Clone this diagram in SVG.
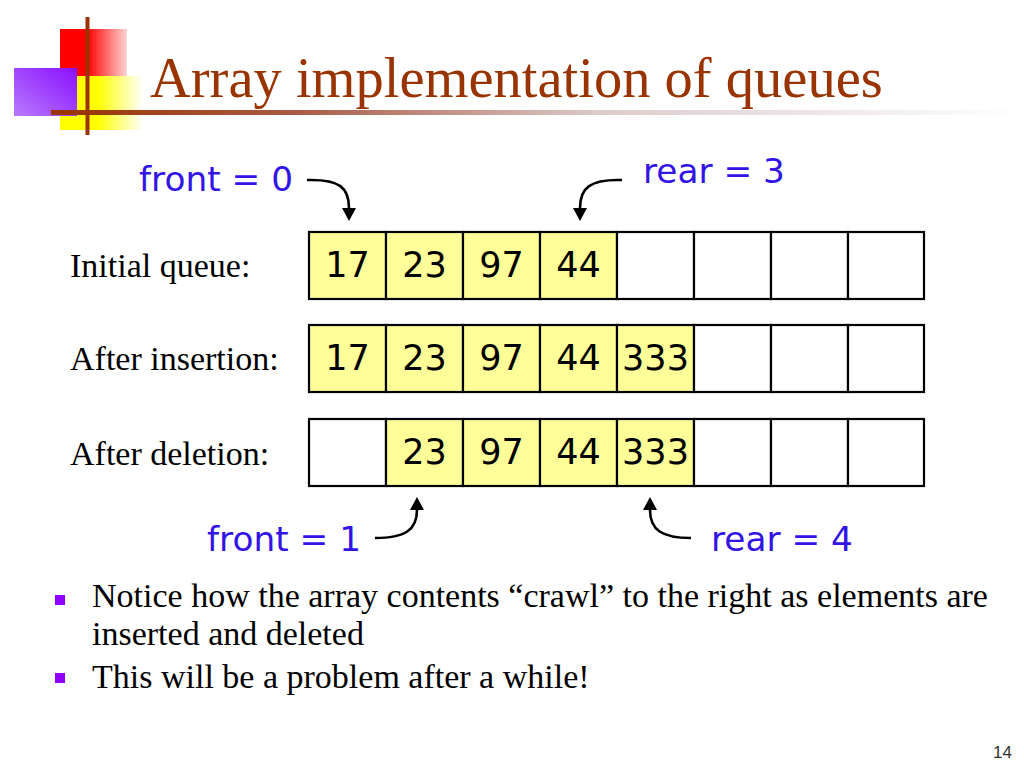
<svg xmlns="http://www.w3.org/2000/svg" width="1024" height="768" viewBox="0 0 1024 768">
<style>
.title{font-family:"Liberation Serif","Times New Roman",serif;font-size:56.5px;fill:#993300}
.lbl{font-family:"Liberation Serif","Times New Roman",serif;font-size:34px;fill:#000}
.body{font-family:"Liberation Serif","Times New Roman",serif;font-size:34px;fill:#000}
.ptr{font-family:"DejaVu Sans",Verdana,sans-serif;font-size:34.3px;fill:#3214e6}
.num{font-family:"DejaVu Sans",Verdana,sans-serif;font-size:35px;fill:#000;text-anchor:middle}
.full{fill:#ffff99;stroke:#000;stroke-width:2.2}
.empty{fill:#fff;stroke:#000;stroke-width:2.2}
.arrow{fill:none;stroke:#000;stroke-width:2.6;marker-end:url(#ah)}
.bullet{fill:#9000ff}
.pg{font-family:"Liberation Sans",Arial,sans-serif;font-size:17px;fill:#333;text-anchor:end}
</style>
<defs>
<linearGradient id="gRed" x1="0" y1="0" x2="1" y2="0">
<stop offset="0" stop-color="#ff0000"/><stop offset="0.4" stop-color="#ff0000"/><stop offset="1" stop-color="#ffd4d4"/>
</linearGradient>
<linearGradient id="gYel" x1="0" y1="0" x2="1" y2="0">
<stop offset="0" stop-color="#ffff00"/><stop offset="0.45" stop-color="#ffff00"/><stop offset="1" stop-color="#ffffff"/>
</linearGradient>
<linearGradient id="gPur" x1="1" y1="0" x2="0" y2="1">
<stop offset="0" stop-color="#8a10ff"/><stop offset="1" stop-color="#b87aff"/>
</linearGradient>
<linearGradient id="gLine" x1="0" y1="0" x2="1" y2="0">
<stop offset="0" stop-color="#993300"/><stop offset="0.25" stop-color="#a85a44"/><stop offset="0.57" stop-color="#ddcccc"/><stop offset="1" stop-color="#ffffff"/>
</linearGradient>
<marker id="ah" viewBox="0 0 13 14" refX="0" refY="7" markerWidth="13" markerHeight="14" markerUnits="userSpaceOnUse" orient="auto">
<path d="M0,0 L13,7 L0,14 z" fill="#000"/>
</marker>
</defs>
<rect width="1024" height="768" fill="#fff"/>

<g id="logo">
<rect x="60" y="29" width="67" height="47" fill="url(#gRed)"/>
<rect x="60" y="76" width="83" height="54" fill="url(#gYel)"/>
<rect x="14" y="68" width="63" height="48" fill="url(#gPur)"/>
<rect x="51" y="110" width="970" height="5" fill="url(#gLine)"/>
<rect x="85.5" y="17" width="4" height="118" fill="#993300"/>
</g>

<g id="title"><text class="title" x="150" y="97">Array implementation of queues</text></g>

<g id="row-labels">
<text class="lbl" x="70" y="277">Initial queue:</text>
<text class="lbl" x="70" y="370">After insertion:</text>
<text class="lbl" x="70" y="465">After deletion:</text>
</g>

<g id="queue-initial">
<rect class="full" x="309" y="232" width="77" height="67"/>
<rect class="full" x="386" y="232" width="77" height="67"/>
<rect class="full" x="463" y="232" width="77" height="67"/>
<rect class="full" x="540" y="232" width="77" height="67"/>
<rect class="empty" x="617" y="232" width="77" height="67"/>
<rect class="empty" x="694" y="232" width="77" height="67"/>
<rect class="empty" x="771" y="232" width="77" height="67"/>
<rect class="empty" x="848" y="232" width="76" height="67"/>
<text class="num" x="347.5" y="277">17</text>
<text class="num" x="424.5" y="277">23</text>
<text class="num" x="501.5" y="277">97</text>
<text class="num" x="578.5" y="277">44</text>
</g>

<g id="queue-after-insertion">
<rect class="full" x="309" y="325" width="77" height="67"/>
<rect class="full" x="386" y="325" width="77" height="67"/>
<rect class="full" x="463" y="325" width="77" height="67"/>
<rect class="full" x="540" y="325" width="77" height="67"/>
<rect class="full" x="617" y="325" width="77" height="67"/>
<rect class="empty" x="694" y="325" width="77" height="67"/>
<rect class="empty" x="771" y="325" width="77" height="67"/>
<rect class="empty" x="848" y="325" width="76" height="67"/>
<text class="num" x="347.5" y="370">17</text>
<text class="num" x="424.5" y="370">23</text>
<text class="num" x="501.5" y="370">97</text>
<text class="num" x="578.5" y="370">44</text>
<text class="num" x="655.5" y="370">333</text>
</g>

<g id="queue-after-deletion">
<rect class="empty" x="309" y="419" width="77" height="67"/>
<rect class="full" x="386" y="419" width="77" height="67"/>
<rect class="full" x="463" y="419" width="77" height="67"/>
<rect class="full" x="540" y="419" width="77" height="67"/>
<rect class="full" x="617" y="419" width="77" height="67"/>
<rect class="empty" x="694" y="419" width="77" height="67"/>
<rect class="empty" x="771" y="419" width="77" height="67"/>
<rect class="empty" x="848" y="419" width="76" height="67"/>
<text class="num" x="424.5" y="464">23</text>
<text class="num" x="501.5" y="464">97</text>
<text class="num" x="578.5" y="464">44</text>
<text class="num" x="655.5" y="464">333</text>
</g>

<g id="ptr-front0"><text class="ptr" x="139" y="191">front = 0</text></g>
<g id="ptr-rear3"><text class="ptr" x="643" y="183">rear = 3</text></g>
<g id="ptr-front1"><text class="ptr" x="207" y="551">front = 1</text></g>
<g id="ptr-rear4"><text class="ptr" x="711" y="551">rear = 4</text></g>

<g id="connectors">
<path class="arrow" d="M307,180 C340,179 349,188 349,208"/>
<path class="arrow" d="M622,180 C590,179 580,188 580,208"/>
<path class="arrow" d="M375,538 C405,538 417,530 417,510"/>
<path class="arrow" d="M691,538 C662,538 650,530 650,510"/>
</g>

<g id="bullets">
<rect class="bullet" x="55" y="595" width="10" height="10"/>
<text class="body" x="92" y="607">Notice how the array contents “crawl” to the right as elements are</text>
<text class="body" x="92" y="645">inserted and deleted</text>
<rect class="bullet" x="55" y="673" width="10" height="10"/>
<text class="body" x="92" y="688">This will be a problem after a while!</text>
</g>

<g id="page-number"><text class="pg" x="1012" y="758">14</text></g>
</svg>
